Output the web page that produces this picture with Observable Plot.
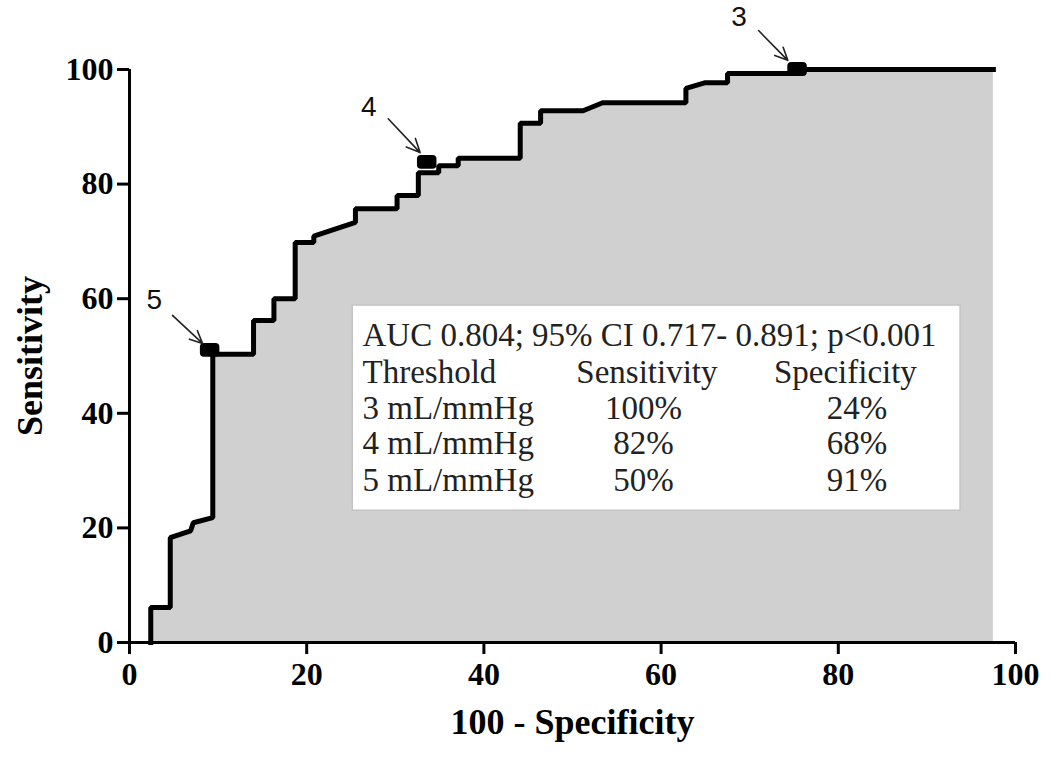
<!DOCTYPE html>
<html>
<head>
<meta charset="utf-8">
<script src="https://cdn.jsdelivr.net/npm/d3@7"></script>
<script src="https://cdn.jsdelivr.net/npm/@observablehq/plot@0.6"></script>
<style>
  html, body { margin: 0; padding: 0; background: #fff; }
  #chart svg { display: block; }
</style>
</head>
<body>
<div id="chart"></div>
<script>
// ROC curve vertices (x = 100 - Specificity, y = Sensitivity)
const rocX = [2.4, 2.4, 4.6, 4.6, 6.9, 7.2, 9.4, 9.4, 14.0, 14.0, 16.3, 16.3, 18.7, 18.7, 20.8, 20.8, 25.5, 25.5, 30.2, 30.2, 32.6, 32.6, 34.9, 34.9, 37.1, 37.1, 44.1, 44.1, 46.4, 46.4, 51.2, 53.4, 62.8, 62.8, 65.0, 67.5, 67.5, 75.4, 75.4, 97.5];
const rocY = [0, 6.1, 6.1, 18.3, 19.5, 20.9, 21.8, 50.3, 50.3, 56.2, 56.2, 60.0, 60.0, 69.8, 69.8, 70.9, 73.3, 75.7, 75.7, 78.0, 78.0, 82.0, 82.0, 83.2, 83.2, 84.5, 84.5, 90.6, 90.6, 92.8, 92.8, 94.2, 94.2, 96.7, 97.7, 97.7, 99.3, 99.3, 100, 100];

// Threshold operating points
const markerLabels = ["5", "4", "3"];
const markerX = [9.1, 33.6, 75.4];
const markerY = [51.0, 83.8, 100];

// Table text
const headline = "AUC 0.804; 95% CI 0.717- 0.891; p<0.001";
const headers = ["Threshold", "Sensitivity", "Specificity"];
const thresholds = ["3 mL/mmHg", "4 mL/mmHg", "5 mL/mmHg"];
const sensitivities = ["100%", "82%", "50%"];
const specificities = ["24%", "68%", "91%"];

const xTicks = [0, 20, 40, 60, 80, 100];
const yTicks = [0, 20, 40, 60, 80, 100];

// ---- layout (annotation placement in data units) ----
const roc = rocX.map((x, i) => ({x, y: rocY[i]}));
const markers = markerLabels.map((label, i) => ({label, x: markerX[i], y: markerY[i]}));
const labelPos = [{dx: -6.3, dy: 8.7}, {dx: -6.6, dy: 9.6}, {dx: -6.6, dy: 9.2}];
const arrowFrom = [{dx: -4.25, dy: 6.1}, {dx: -4.4, dy: 7.6}, {dx: -4.4, dy: 6.8}];
const arrowTo = [{dx: -0.86, dy: 1.2}, {dx: -0.8, dy: 1.7}, {dx: -1.1, dy: 1.6}];
const arrows = markers.map((m, i) => ({
  x1: m.x + arrowFrom[i].dx, y1: m.y + arrowFrom[i].dy,
  x2: m.x + arrowTo[i].dx, y2: m.y + arrowTo[i].dy
}));
const labels = markers.map((m, i) => ({label: m.label, x: m.x + labelPos[i].dx, y: m.y + labelPos[i].dy}));

const box = [{x1: 25.2, x2: 93.8, y1: 23.0, y2: 58.8}];
const rowY = [53.6, 47.1, 40.8, 34.7, 28.3];
const colX = {left: 26.3, sensHead: 58.4, sensVal: 58.0, specHead: 80.8, specVal: 82.1};

const leftText = [
  {text: headline, x: colX.left, y: rowY[0]},
  {text: headers[0], x: colX.left, y: rowY[1]},
  ...thresholds.map((t, i) => ({text: t, x: colX.left, y: rowY[i + 2]}))
];
const midText = [
  {text: headers[1], x: colX.sensHead, y: rowY[1]},
  {text: headers[2], x: colX.specHead, y: rowY[1]},
  ...sensitivities.map((t, i) => ({text: t, x: colX.sensVal, y: rowY[i + 2]})),
  ...specificities.map((t, i) => ({text: t, x: colX.specVal, y: rowY[i + 2]}))
];

const tableStyle = {x: "x", y: "y", text: "text", fontSize: 33, lineAnchor: "middle", fill: "#222"};

const chart = Plot.plot({
  width: 1050,
  height: 759,
  marginLeft: 129,
  marginRight: 35,
  marginTop: 69,
  marginBottom: 117,
  x: {domain: [0, 100]},
  y: {domain: [0, 100]},
  style: {fontFamily: "'Liberation Serif', 'Times New Roman', serif", background: "#fff", color: "#000"},
  marks: [
    Plot.areaY(roc, {x: "x", y1: 0, y2: "y", fill: "#d0d0d0", curve: "linear"}),
    Plot.line(roc, {x: "x", y: "y", stroke: "#000", strokeWidth: 5, strokeLinejoin: "miter", strokeLinecap: "square", curve: "linear"}),
    Plot.ruleY([0], {x1: 0, x2: 100, stroke: "#000", strokeWidth: 3}),
    Plot.ruleX([0], {y1: 0, y2: 100, stroke: "#000", strokeWidth: 3}),
    Plot.axisX({ticks: xTicks, tickSize: 12, tickPadding: 8, fontSize: 32, fontWeight: "bold", strokeWidth: 3, label: null}),
    Plot.axisY({ticks: yTicks, tickSize: 12, tickPadding: 4, fontSize: 32, fontWeight: "bold", strokeWidth: 3, label: null}),
    Plot.text(["100 - Specificity"], {frameAnchor: "bottom", dy: 80, fontSize: 36, fontWeight: "bold", lineAnchor: "middle", textAnchor: "middle"}),
    Plot.text(["Sensitivity"], {frameAnchor: "left", dx: -99, rotate: -90, fontSize: 36, fontWeight: "bold", lineAnchor: "middle", textAnchor: "middle"}),
    Plot.rect(box, {x1: "x1", x2: "x2", y1: "y1", y2: "y2", fill: "#fff", stroke: "#c4c4c4", strokeWidth: 1.5}),
    Plot.text(leftText, {...tableStyle, textAnchor: "start"}),
    Plot.text(midText, {...tableStyle, textAnchor: "middle"}),
    Plot.rect(markers, {x1: d => d.x - 1.1, x2: d => d.x + 1.1, y1: d => d.y - 1.2, y2: d => d.y + 1.2, fill: "#000", rx: 4}),
    Plot.arrow(arrows, {x1: "x1", y1: "y1", x2: "x2", y2: "y2", stroke: "#222", strokeWidth: 1.6, headLength: 14, headAngle: 50}),
    Plot.text(labels, {x: "x", y: "y", text: "label", fontSize: 28, fontFamily: "'Liberation Sans', sans-serif", fill: "#111", lineAnchor: "middle"})
  ]
});
document.getElementById("chart").appendChild(chart);
</script>
</body>
</html>
